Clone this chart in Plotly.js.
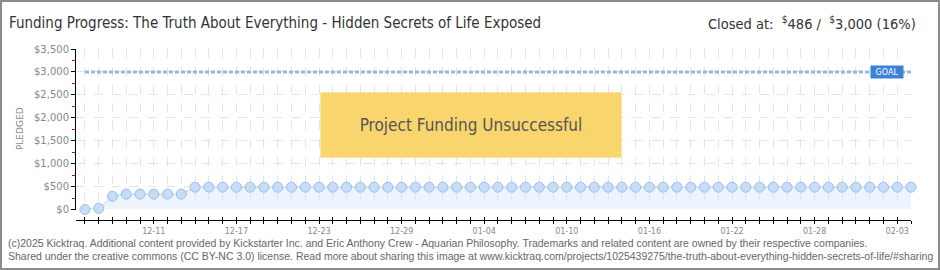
<!DOCTYPE html>
<html>
<head>
<meta charset="utf-8">
<script src="https://cdn.plot.ly/plotly-3.0.1.min.js"></script>
<style>
  html, body { margin: 0; padding: 0; background: #fff; }
  #wrap { position: relative; width: 940px; height: 270px; }
  #chart { width: 940px; height: 270px; }
  #frame { position: absolute; left: 0; top: 0; width: 940px; height: 270px; box-sizing: border-box; border: 2px solid #8c8c8c; pointer-events: none; }
</style>
</head>
<body>
<div id="wrap"><div id="chart"></div><div id="frame"></div></div>
<script>
// ---- data ----
const dates = [
  "2024-12-06","2024-12-07","2024-12-08","2024-12-09","2024-12-10","2024-12-11","2024-12-12","2024-12-13",
  "2024-12-14","2024-12-15","2024-12-16","2024-12-17","2024-12-18","2024-12-19","2024-12-20","2024-12-21",
  "2024-12-22","2024-12-23","2024-12-24","2024-12-25","2024-12-26","2024-12-27","2024-12-28","2024-12-29",
  "2024-12-30","2024-12-31","2025-01-01","2025-01-02","2025-01-03","2025-01-04","2025-01-05","2025-01-06",
  "2025-01-07","2025-01-08","2025-01-09","2025-01-10","2025-01-11","2025-01-12","2025-01-13","2025-01-14",
  "2025-01-15","2025-01-16","2025-01-17","2025-01-18","2025-01-19","2025-01-20","2025-01-21","2025-01-22",
  "2025-01-23","2025-01-24","2025-01-25","2025-01-26","2025-01-27","2025-01-28","2025-01-29","2025-01-30",
  "2025-01-31","2025-02-01","2025-02-02","2025-02-03","2025-02-04"
];
const pledged = [
  0, 25, 290, 336, 336, 336, 336, 336,
  486, 486, 486, 486, 486, 486, 486, 486,
  486, 486, 486, 486, 486, 486, 486, 486,
  486, 486, 486, 486, 486, 486, 486, 486,
  486, 486, 486, 486, 486, 486, 486, 486,
  486, 486, 486, 486, 486, 486, 486, 486,
  486, 486, 486, 486, 486, 486, 486, 486,
  486, 486, 486, 486, 486
];
const labelDates = ["2024-12-11","2024-12-17","2024-12-23","2024-12-29","2025-01-04","2025-01-10","2025-01-16","2025-01-22","2025-01-28","2025-02-03"];
const labelText  = ["12-11","12-17","12-23","12-29","01-04","01-10","01-16","01-22","01-28","02-03"];
const goal = 3000;
const titleText = "Funding Progress: The Truth About Everything - Hidden Secrets of Life Exposed";
const closedText = "Closed at:  <sup>$</sup>486 /  <sup>$</sup>3,000 (16%)";
const statusText = "Project Funding Unsuccessful";
const footer1 = "(c)2025 Kicktraq. Additional content provided by Kickstarter Inc. and Eric Anthony Crew - Aquarian Philosophy. Trademarks and related content are owned by their respective companies.";
const footer2 = "Shared under the creative commons (CC BY-NC 3.0) license. Read more about sharing this image at www.kicktraq.com/projects/1025439275/the-truth-about-everything-hidden-secrets-of-life/#sharing";

const xRange = ["2024-12-05 08:24", "2025-02-04 00:00"];
const titleFont = "DejaVu Sans Condensed, Liberation Sans Narrow, DejaVu Sans, sans-serif";
const pixFont = "DejaVu Sans, Verdana, sans-serif";
const footFont = "Liberation Sans, Arial, sans-serif";
const gridCol = "#e4e4e4";

const traces = [
  {
    x: dates, y: pledged, type: "scatter", mode: "lines+markers",
    fill: "tozeroy", fillcolor: "rgba(214,230,250,0.45)",
    line: { color: "#b7d3f1", width: 1 },
    marker: { size: 10, color: "#c6ddf8", line: { color: "#9dbde5", width: 1 } },
    cliponaxis: false, hoverinfo: "skip"
  },
  {
    x: dates, y: dates.map(() => null), xaxis: "x2", yaxis: "y",
    type: "scatter", mode: "lines", hoverinfo: "skip", showlegend: false
  }
];

const layout = {
  width: 940, height: 270,
  margin: { l: 76, r: 29, t: 49, b: 50 },
  paper_bgcolor: "#ffffff", plot_bgcolor: "#ffffff",
  showlegend: false,
  xaxis: {
    type: "date", range: xRange, domain: [0, 1], anchor: "free", position: 0,
    showline: true, linecolor: "#000", linewidth: 1,
    ticks: "outside", ticklen: 3, tickcolor: "#000", tickwidth: 1,
    tickmode: "array", tickvals: labelDates, ticktext: labelText, tickangle: 0,
    tickfont: { family: pixFont, size: 8, color: "#888" },
    showgrid: true, gridcolor: gridCol, griddash: "dash", gridwidth: 1,
    minor: { tickmode: "array", tickvals: dates, ticks: "outside", ticklen: 3, tickcolor: "#000", tickwidth: 1,
             showgrid: true, gridcolor: gridCol, griddash: "dash", gridwidth: 1 },
    zeroline: false, fixedrange: true
  },
  xaxis2: {
    type: "date", range: xRange, overlaying: "x", anchor: "free", position: 0,
    showline: false, ticks: "inside", ticklen: 3, tickcolor: "#000", tickwidth: 1,
    tickmode: "array", tickvals: dates, showticklabels: false,
    showgrid: false, zeroline: false
  },
  yaxis: {
    range: [0, 3500], domain: [0.0614, 1], anchor: "x",
    showline: true, linecolor: "#000", linewidth: 1,
    ticks: "outside", ticklen: 4, tickcolor: "#000",
    dtick: 500, tick0: 0, tickformat: ",d", tickprefix: "$",
    tickfont: { family: pixFont, size: 10, color: "#888" },
    minor: { dtick: 250, tick0: 0, ticks: "outside", ticklen: 3, tickcolor: "#e00000", showgrid: false },
    showgrid: true, gridcolor: gridCol, griddash: "dash", gridwidth: 1,
    zeroline: false, fixedrange: true
  },
  shapes: [
    { type: "line", xref: "x", yref: "y", x0: dates[0], x1: dates[dates.length - 1], y0: goal, y1: goal,
      line: { color: "#93b6e3", width: 3, dash: "4px,2px" }, layer: "above" }
  ],
  annotations: [
    { xref: "paper", yref: "paper", x: -0.0826, y: 1.152, xanchor: "left", yanchor: "middle",
      text: titleText, showarrow: false, font: { family: titleFont, size: 15, color: "#333" } },
    { xref: "paper", yref: "paper", x: 1.0084, y: 1.152, xanchor: "right", yanchor: "middle",
      text: closedText, showarrow: false, font: { family: titleFont, size: 14.5, color: "#333" } },
    { xref: "paper", yref: "paper", x: -0.067, y: 0.532, textangle: -90, xanchor: "center", yanchor: "middle",
      text: "PLEDGED", showarrow: false, font: { family: pixFont, size: 9, color: "#888" } },
    { xref: "paper", yref: "y", x: 0.971, y: goal, xanchor: "center", yanchor: "middle",
      text: "GOAL", showarrow: false, bgcolor: "#3b82d6", borderpad: 1, width: 30, height: 10,
      font: { family: pixFont, size: 8, color: "#fff" } },
    { xref: "paper", yref: "paper", x: 0.4725, y: 0.5556, xanchor: "center", yanchor: "middle",
      text: statusText, showarrow: false, width: 298, height: 62,
      bgcolor: "#f8d56d", bordercolor: "#fbe6a0", borderwidth: 1, borderpad: 1,
      font: { family: titleFont, size: 17, color: "#555" } },
    { xref: "paper", yref: "paper", x: -0.0838, y: -0.132, xanchor: "left", yanchor: "middle",
      text: footer1, showarrow: false, font: { family: footFont, size: 10.5, color: "#666" } },
    { xref: "paper", yref: "paper", x: -0.0838, y: -0.2105, xanchor: "left", yanchor: "middle",
      text: footer2, showarrow: false, font: { family: footFont, size: 10.5, color: "#666" } }
  ]
};

Plotly.newPlot("chart", traces, layout, { staticPlot: true, displayModeBar: false });
</script>
</body>
</html>
